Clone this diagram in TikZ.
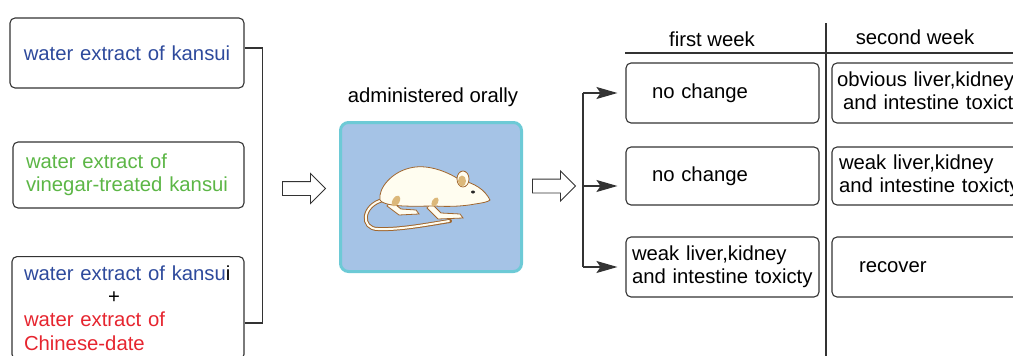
\documentclass[tikz,border=0pt]{standalone}
\usepackage{fontspec}
\setmainfont{Liberation Sans}
\usetikzlibrary{shapes.arrows,arrows.meta}

\definecolor{kblue}{HTML}{2E4A9C}
\definecolor{kgreen}{HTML}{5CB646}
\definecolor{kred}{HTML}{E6252F}
\definecolor{mfill}{HTML}{A5C3E6}
\definecolor{mborder}{HTML}{6DCAD6}
\definecolor{mcream}{HTML}{FFFDF0}
\definecolor{mbrown}{HTML}{A0662E}
\definecolor{mtan}{HTML}{DCB87A}

\begin{document}
\begin{tikzpicture}[x=1pt, y=-1pt,
  every node/.style={font=\fontsize{20.3}{23.3}\selectfont, inner sep=3},
  box/.style={draw=black!80, line width=1.1, rounded corners=5, align=left, inner xsep=12},
  link/.style={draw=black!80, line width=1.1},
  tip/.style={-{Stealth[length=21pt,width=12pt,inset=4pt]}},
  hollow/.style={single arrow, draw=black!80, line width=0.9, fill=white,
    inner xsep=0, inner ysep=6.5, minimum height=43, single arrow head extend=8}]

\useasboundingbox (0,0) rectangle (1013,356);
\clip (0,0) rectangle (1013,356);

% the three extracts
\node[box, align=center, text width=210, minimum height=70, text=kblue] (wk) at (127,53) {water extract of kansui};
\node[box, text width=205, inner xsep=13, minimum height=66, text=kgreen] (wv) at (128.5,175)
   {water extract of\\vinegar-treated kansui};
\node[box, anchor=north, text width=208, inner ysep=9] (wc) at (128,256)
   {\textcolor{kblue}{water extract of kansu}i\\\hspace*{84pt}+\\
    \textcolor{kred}{water extract of}\\\textcolor{kred}{Chinese-date}};
\draw[link] ([yshift=5]wk.east) -| ([xshift=18,yshift=-67]wc.north east) -- ([yshift=-67]wc.north east);

\node[hollow] (h1) at (300.5,188.5) {};

% the mouse
\node (adm) at (433,97) {administered orally};
\node[draw=mborder, fill=mfill, line width=3, rounded corners=8, minimum width=181, minimum height=149] (mouse) at (431,197) {};
\draw[mbrown, line width=4, line cap=round] (383,200) .. controls (362,205) and (360,229) .. (378,229) .. controls (400,230) and (430,224) .. (450,221);
\draw[mcream, line width=2, line cap=round] (383,200) .. controls (362,205) and (360,229) .. (378,229) .. controls (400,230) and (430,224) .. (449,221);
\filldraw[fill=mcream, draw=mbrown, line width=0.8] (391,201) -- (401,209) -- (416,210) -- (419,214) -- (399,215) -- (387,206) -- cycle;
\filldraw[fill=mcream, draw=mbrown, line width=0.8] (431,203) -- (441,213) -- (460,214) -- (463,218) -- (438,219) -- (427,208) -- cycle;
\filldraw[fill=mcream, draw=mbrown, line width=0.8] (490,200) .. controls (485,190) and (475,183) .. (460,180)
   .. controls (445,170) and (425,164) .. (410,168) .. controls (392,172) and (378,188) .. (380,200)
   .. controls (385,208) and (420,206) .. (435,206) .. controls (450,207) and (465,206) .. (475,204)
   .. controls (482,203) and (488,202) .. (490,200) -- cycle;
\fill[mtan, rotate around={-30:(396,201)}] (396,201) ellipse[x radius=3.5, y radius=6];
\fill[mtan, rotate around={-30:(435,202)}] (435,202) ellipse[x radius=3, y radius=5];
\filldraw[fill=mcream, draw=mbrown, line width=0.8] (463,179) ellipse[x radius=6, y radius=8];
\fill[mtan] (462,181) ellipse[x radius=4, y radius=5.5];
\fill[black!85] (473,192) ellipse[x radius=2, y radius=1.5];

\node[hollow] (h2) at (550.5,186) {};

% the two weeks
\node (w1) at (712,39) {first week};
\node (w2) at (915,37) {second week};
\coordinate (hl) at (625,53);
\coordinate (vl) at (826,23);
\draw[link] (hl) -- (1013,53);
\draw[link] (vl) -- (826,356);

\node[box, text width=141, inner xsep=26, minimum height=60] (fa) at (722.5,93) {no change};
\node[box, text width=141, inner xsep=26, minimum height=58] (fb) at (722.5,176) {no change};
\node[box, text width=181, inner xsep=6, minimum height=60] (fc) at (722.5,267) {weak liver,kidney\\and intestine toxicty};
\node[box, text width=210, inner xsep=5, minimum height=60] (sa) at (942,93) {obvious liver,kidney\\\hspace*{6pt}and intestine toxicty};
\node[box, text width=206, inner xsep=7, minimum height=58] (sb) at (942,176) {weak liver,kidney\\and intestine toxicty};
\node[box, text width=166, inner xsep=27, minimum height=60] (sc) at (942,267) {recover};

\coordinate (sp) at (583,93);
\coordinate (mb) at ([yshift=-10]fb.west);
\draw[link] (sp) -- (sp |- fc.west);
\draw[link,tip] (sp) -- ([xshift=-8]fa.west);
\draw[link,tip] (sp |- mb) -- ([xshift=-8]mb);
\draw[link,tip] (sp |- fc.west) -- ([xshift=-8]fc.west);
\end{tikzpicture}
\end{document}
